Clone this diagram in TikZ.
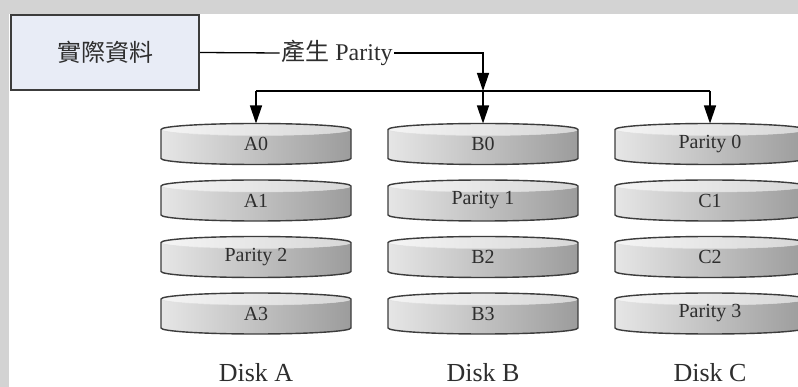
\documentclass[tikz,border=0pt]{standalone}
\usepackage{fontspec}
\setmainfont{Liberation Serif}
\newfontfamily\cjkfont{Noto Sans CJK TC}
\usetikzlibrary{arrows.meta, backgrounds}

\definecolor{bandgray}{HTML}{D3D3D3}
\definecolor{boxfill}{HTML}{E8ECF6}
\definecolor{edgegray}{HTML}{3C3C3C}
\definecolor{diskleft}{HTML}{E6E6E6}
\definecolor{diskmid}{HTML}{D6D6D6}
\definecolor{diskright}{HTML}{9C9C9C}
\definecolor{txtgray}{HTML}{2E2E2E}

\tikzset{
  disk outline/.style={insert path={([shift={(-95pt,14.5pt)}]#1.center)
    arc[start angle=180, end angle=0, x radius=95pt, y radius=6pt] -- ++(0,-29pt)
    arc[start angle=0, end angle=-180, x radius=95pt, y radius=6pt] -- cycle}},
  disk/.style={rectangle, minimum width=190pt, minimum height=41pt, inner sep=0pt, outer sep=0pt,
    text=txtgray, font=\fontsize{20}{24}\selectfont},
  disklabel/.style={anchor=base, inner sep=0pt, text=txtgray, font=\fontsize{26}{30}\selectfont},
  link/.style={black, line width=1.3pt},
  tip/.style={link, -{Triangle[length=18pt, width=12pt]}}
}

\begin{document}
\begin{tikzpicture}[x=1pt, y=1pt]
    \useasboundingbox (0,0) rectangle (798,-387);

    % Nodes
    \node[draw=edgegray, line width=2pt, fill=boxfill, minimum width=188pt, minimum height=75pt, text=txtgray,
      font=\fontsize{24}{28}\selectfont\cjkfont] (src) at (105,-52.5) {實際資料};
    \node[inner xsep=1.5pt, inner ysep=0pt, text=txtgray, font=\fontsize{24}{28}\selectfont] (gen) at (337,-53)
      {{\cjkfont 產生} Parity};

    \coordinate (busA) at (256,-91);
    \coordinate (busB) at (483,-91);
    \coordinate (busC) at (710,-91);

    \node[disk] (a0) at (256,-144) {A0};
    \node[disk] (a1) at (256,-200.5) {A1};
    \node[disk] (a2) at (256,-257) {Parity 2};
    \node[disk] (a3) at (256,-313.5) {A3};

    \node[disk] (b0) at (483,-144) {B0};
    \node[disk] (b1) at (483,-200.5) {Parity 1};
    \node[disk] (b2) at (483,-257) {B2};
    \node[disk] (b3) at (483,-313.5) {B3};

    \node[disk] (c0) at (710,-144) {Parity 0};
    \node[disk] (c1) at (710,-200.5) {C1};
    \node[disk] (c2) at (710,-257) {C2};
    \node[disk] (c3) at (710,-313.5) {Parity 3};

    \node[disklabel] (diskA) at (256,-381.5) {Disk A};
    \node[disklabel] (diskB) at (483,-381.5) {Disk B};
    \node[disklabel] (diskC) at (710,-381.5) {Disk C};

    % Disk bodies and background
    \begin{scope}[on background layer]
      \fill[bandgray] (0,0) rectangle (798,-387);
      \fill[white] (9,-14) rectangle (798,-387);
      \foreach \d in {a0,a1,a2,a3,b0,b1,b2,b3,c0,c1,c2,c3} {
        \shade[left color=diskleft, middle color=diskmid, right color=diskright, disk outline=\d];
        \fill[white, opacity=.6] ([yshift=14.5pt]\d.center) ellipse [x radius=95pt, y radius=6pt];
        \draw[gray!25, line width=.5pt] ([shift={(-95pt,14.5pt)}]\d.center)
          arc[start angle=180, end angle=360, x radius=95pt, y radius=6pt];
        \draw[edgegray, line width=1.4pt, line join=round, disk outline=\d];
      }
    \end{scope}

    % Edges
    \draw[link] (src.east) -- (gen.west);
    \draw[tip] (gen.east) -| (busB);
    \draw[link] (busA) -- (busC);
    \draw[tip] (busA) -- (a0.north);
    \draw[tip] (busB) -- (b0.north);
    \draw[tip] (busC) -- (c0.north);
\end{tikzpicture}
\end{document}
